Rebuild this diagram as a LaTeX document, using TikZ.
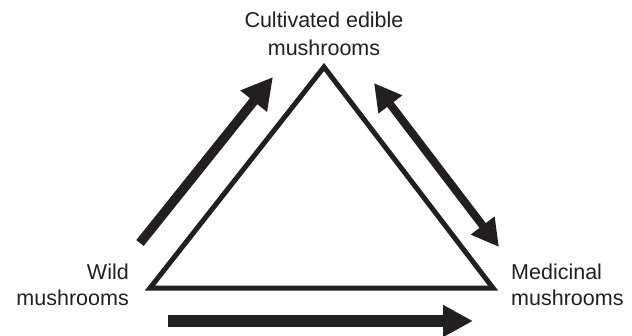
\documentclass[tikz,border=0pt]{standalone}
\usepackage{fontspec}
\setmainfont{Liberation Sans}
\usetikzlibrary{arrows.meta}
\definecolor{ink}{HTML}{231F20}
\tikzset{
  lbl/.style={inner sep=0pt, text=ink, font=\fontsize{21.5}{26}\selectfont},
  tri/.style={draw=ink, line width=5pt, line join=miter},
  fatarrow/.style={draw=ink, line cap=butt},
}
\begin{document}
\begin{tikzpicture}[x=1pt,y=-1pt]
\useasboundingbox (0,0) rectangle (632,335);
\coordinate (top) at (324,67);
\coordinate (bl) at (150,288);
\coordinate (br) at (493,288);
\draw[tri] (top) -- (bl) -- (br) -- cycle;

\node[lbl, font=\fontsize{21.5}{28}\selectfont, align=center, anchor=base] (cult) at (324,55) {Cultivated edible\\mushrooms};
\node[lbl, align=right, anchor=base east] (wild) at (129,305) {Wild\\mushrooms};
\node[lbl, align=left, anchor=base west] (med) at (511,305) {Medicinal\\mushrooms};

% left arrow
\coordinate (la1) at (140,243);
\coordinate (la2) at (273,77);
\draw[fatarrow, line width=9.5pt, -{Triangle[length=31pt,width=32pt]}] (la1) -- (la2);

% right double arrow
\coordinate (ra1) at (374,83);
\coordinate (ra2) at (499,247);
\draw[fatarrow, line width=8pt, {Triangle[length=27pt,width=28pt]}-{Triangle[length=27pt,width=28pt]}] (ra1) -- (ra2);

% bottom arrow
\coordinate (ba1) at (168,321);
\coordinate (ba2) at (473,321);
\draw[fatarrow, line width=11.5pt, -{Triangle[length=30pt,width=30pt]}] (ba1) -- (ba2);
\end{tikzpicture}
\end{document}
